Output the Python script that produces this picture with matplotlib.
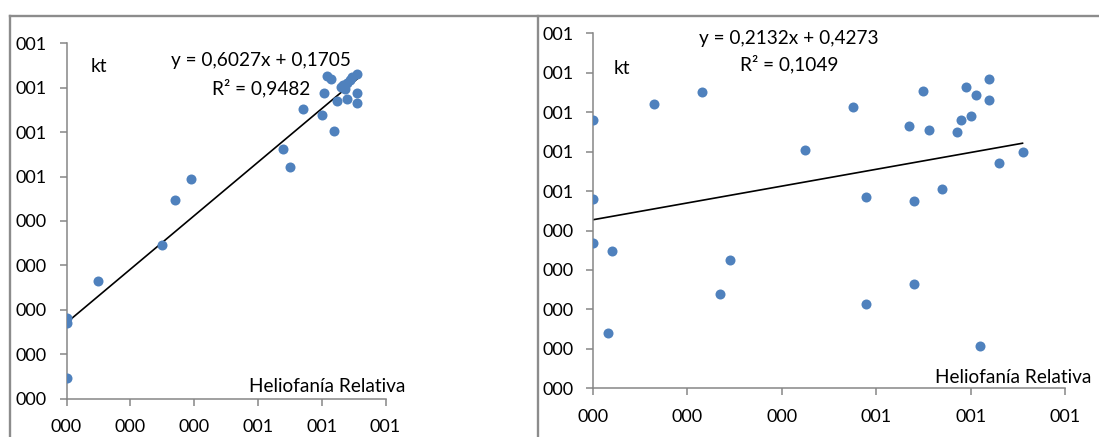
import numpy as np
import matplotlib
matplotlib.use("Agg")
from matplotlib import pyplot as plt
from matplotlib.lines import Line2D

plt.rcParams['font.family'] = ['Lato', 'DejaVu Sans']

# left panel: kt vs heliofania relativa
x1 = [0.0, 0.0, 0.0, 0.100, 0.299, 0.340, 0.390, 0.679, 0.701,
      0.740, 0.800, 0.808, 0.818, 0.828, 0.840, 0.849, 0.860, 0.868,
      0.873, 0.878, 0.880, 0.889, 0.896, 0.910, 0.910, 0.910]
y1 = [0.181, 0.171, 0.047, 0.265, 0.345, 0.447, 0.494, 0.562, 0.521,
      0.652, 0.639, 0.687, 0.726, 0.720, 0.602, 0.669, 0.702, 0.706,
      0.696, 0.711, 0.675, 0.717, 0.725, 0.731, 0.687, 0.666]
slope1, icpt1 = 0.6027, 0.1705
eq1 = "y = 0,6027x + 0,1705"
r2_1 = "R² = 0,9482"

# right panel
x2 = [0.0, 0.0, 0.0, 0.031, 0.040, 0.130, 0.230, 0.270, 0.290, 0.450,
      0.550, 0.579, 0.579, 0.670, 0.680, 0.680, 0.700, 0.711, 0.740,
      0.771, 0.780, 0.791, 0.800, 0.811, 0.819, 0.840, 0.840, 0.860, 0.910]
y2 = [0.680, 0.480, 0.368, 0.139, 0.349, 0.721, 0.750, 0.238, 0.325, 0.603,
      0.713, 0.484, 0.213, 0.664, 0.475, 0.264, 0.754, 0.655, 0.506,
      0.651, 0.679, 0.763, 0.691, 0.743, 0.107, 0.783, 0.730, 0.570, 0.598]
slope2, icpt2 = 0.2132, 0.4273
eq2 = "y = 0,2132x + 0,4273"
r2_2 = "R² = 0,1049"

xticks = [0.0, 0.2, 0.4, 0.6, 0.8, 1.0]
yticks1 = [0.0, 0.1, 0.2, 0.3, 0.4, 0.5, 0.6, 0.7, 0.8]
yticks2 = [0.0, 0.1, 0.2, 0.3, 0.4, 0.5, 0.6, 0.7, 0.8, 0.9]

W, H = 1099, 437
fig = plt.figure(figsize=(W / 100, H / 100), dpi=100)
TFS = 13.7   # text size
LFS = 13     # tick label size

def fmt(v):
    # excel "000" format: rounds half up
    return "%03d" % int(np.floor(v + 0.5 + 1e-9))

def panel(rect, x, y, slope, icpt, eq, r2, yt, ymax, txt):
    ax = fig.add_axes(rect)
    ax.scatter(x, y, s=52, color="#4F81BD", zorder=3, linewidths=0)
    xs = np.array([min(x), max(x)])
    ax.plot(xs, slope * xs + icpt, color="black", lw=1.2, zorder=2)
    ax.set_xlim(0, 1.0)
    ax.set_ylim(0, ymax)
    ax.set_xticks(xticks)
    ax.set_xticklabels([fmt(v) for v in xticks])
    ax.set_yticks(yt)
    ax.set_yticklabels([fmt(v) for v in yt])
    for s in ["top", "right"]:
        ax.spines[s].set_visible(False)
    for s in ["left", "bottom"]:
        ax.spines[s].set_color("#868686")
        ax.spines[s].set_linewidth(1.1)
    ax.tick_params(axis="both", direction="out", length=5, width=1.1,
                   color="#868686", labelsize=LFS, labelcolor="black")
    ax.tick_params(axis="y", pad=9)
    ax.tick_params(axis="x", pad=10)
    ax.patch.set_alpha(0)
    kx, ky, ex, ey, rx, ry, hx, hy, ha = txt
    ax.text(kx, ky, "kt", fontsize=TFS, ha="center", va="center")
    ax.text(ex, ey, eq, fontsize=TFS, ha="center", va="center")
    ax.text(rx, ry, r2, fontsize=TFS, ha="center", va="center")
    ax.text(hx, hy, "Heliofanía Relativa", fontsize=TFS, ha=ha, va="center",
            clip_on=False)
    return ax

panel([66.5 / W, 38.5 / H, 319 / W, 355.2 / H], x1, y1, slope1, icpt1, eq1, r2_1,
      yticks1, 0.8, (0.10, 0.748, 0.609, 0.762, 0.611, 0.700, 0.818, 0.026, "center"))
panel([593 / W, 48.7 / H, 472 / W, 355 / H], x2, y2, slope2, icpt2, eq2, r2_2,
      yticks2, 0.9, (0.061, 0.810, 0.414, 0.886, 0.415, 0.822, 0.725, 0.028, "left"))

# outer frame lines
fc = "#8c8c8c"
fig.add_artist(Line2D([10 / W, 10 / W], [0, 1 - 15.7 / H], color=fc, lw=1.7))
fig.add_artist(Line2D([10 / W, 1], [1 - 15.7 / H, 1 - 15.7 / H], color=fc, lw=1.7))
fig.add_artist(Line2D([537.7 / W, 537.7 / W], [0, 1 - 15.7 / H], color=fc, lw=1.7))

fig.savefig("out.png", dpi=100)
